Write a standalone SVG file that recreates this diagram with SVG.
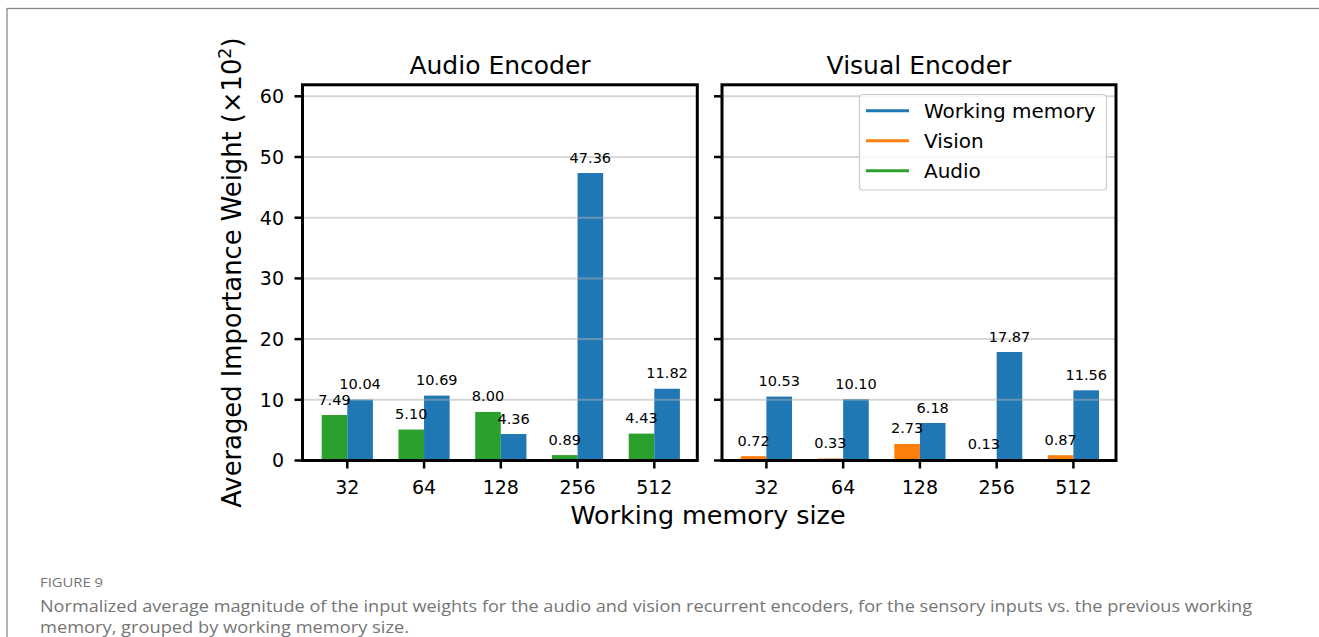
<svg xmlns="http://www.w3.org/2000/svg" width="1319" height="637" viewBox="0 0 1319 637">
<style>
.t{font-family:"DejaVu Sans",sans-serif;fill:#000}
.tick{font-size:19px}
.val{font-size:14.5px;text-anchor:middle}
.title{font-size:25px;text-anchor:middle}
.leg{font-size:20px}
.grid{stroke:#b0b0b0;stroke-opacity:0.5;stroke-width:2}
.spine{fill:none;stroke:#000;stroke-width:3}
.tk{stroke:#000;stroke-width:2.5}
.wm{fill:#1f77b4}
.vi{fill:#ff7f0e}
.au{fill:#2ca02c}
.cap{font-family:"Open Sans","Noto Sans",sans-serif;fill:#757575}
</style>
<rect x="0" y="0" width="1319" height="637" fill="#fff"/>
<rect x="7" y="8.5" width="1340" height="660" fill="none" stroke="#8a8a8a" stroke-width="1.3"/>

<g id="audio-panel">
  <g id="audio-bars">
    <rect class="au" x="321.7" y="415.04" width="25.6" height="45.46"/>
    <rect class="wm" x="347.3" y="399.56" width="25.6" height="60.94"/>
    <rect class="au" x="398.45" y="429.54" width="25.6" height="30.96"/>
    <rect class="wm" x="424.05" y="395.61" width="25.6" height="64.89"/>
    <rect class="au" x="475.2" y="411.94" width="25.6" height="48.56"/>
    <rect class="wm" x="500.8" y="434.03" width="25.6" height="26.47"/>
    <rect class="au" x="551.95" y="455.1" width="25.6" height="5.4"/>
    <rect class="wm" x="577.55" y="173.02" width="25.6" height="287.48"/>
    <rect class="au" x="628.7" y="433.61" width="25.6" height="26.89"/>
    <rect class="wm" x="654.3" y="388.75" width="25.6" height="71.75"/>
  </g>
  <g id="audio-grid">
    <line class="grid" x1="302.5" x2="697.3" y1="399.8" y2="399.8"/>
    <line class="grid" x1="302.5" x2="697.3" y1="339.1" y2="339.1"/>
    <line class="grid" x1="302.5" x2="697.3" y1="278.4" y2="278.4"/>
    <line class="grid" x1="302.5" x2="697.3" y1="217.7" y2="217.7"/>
    <line class="grid" x1="302.5" x2="697.3" y1="157" y2="157"/>
    <line class="grid" x1="302.5" x2="697.3" y1="96.3" y2="96.3"/>
  </g>
  <g id="audio-values" class="t">
    <text class="val" x="334.5" y="404.5">7.49</text>
    <text class="val" x="360.1" y="389.1">10.04</text>
    <text class="val" x="411.25" y="419">5.10</text>
    <text class="val" x="436.85" y="385.1">10.69</text>
    <text class="val" x="488" y="401.4">8.00</text>
    <text class="val" x="513.6" y="423.5">4.36</text>
    <text class="val" x="564.75" y="444.6">0.89</text>
    <text class="val" x="590.35" y="162.5">47.36</text>
    <text class="val" x="641.5" y="423.1">4.43</text>
    <text class="val" x="667.1" y="378.25">11.82</text>
  </g>
  <rect class="spine" x="302.5" y="84.8" width="394.8" height="375.7"/>
  <g id="audio-ticks">
    <line class="tk" x1="294.5" x2="302.5" y1="460.5" y2="460.5"/>
    <line class="tk" x1="294.5" x2="302.5" y1="399.8" y2="399.8"/>
    <line class="tk" x1="294.5" x2="302.5" y1="339.1" y2="339.1"/>
    <line class="tk" x1="294.5" x2="302.5" y1="278.4" y2="278.4"/>
    <line class="tk" x1="294.5" x2="302.5" y1="217.7" y2="217.7"/>
    <line class="tk" x1="294.5" x2="302.5" y1="157" y2="157"/>
    <line class="tk" x1="294.5" x2="302.5" y1="96.3" y2="96.3"/>
    <line class="tk" x1="347.3" x2="347.3" y1="460.5" y2="468.5"/>
    <line class="tk" x1="424.05" x2="424.05" y1="460.5" y2="468.5"/>
    <line class="tk" x1="500.8" x2="500.8" y1="460.5" y2="468.5"/>
    <line class="tk" x1="577.55" x2="577.55" y1="460.5" y2="468.5"/>
    <line class="tk" x1="654.3" x2="654.3" y1="460.5" y2="468.5"/>
  </g>
  <g id="audio-ticklabels" class="t tick">
    <text x="284" y="467.4" text-anchor="end">0</text>
    <text x="284" y="406.7" text-anchor="end">10</text>
    <text x="284" y="346" text-anchor="end">20</text>
    <text x="284" y="285.3" text-anchor="end">30</text>
    <text x="284" y="224.6" text-anchor="end">40</text>
    <text x="284" y="163.9" text-anchor="end">50</text>
    <text x="284" y="103.2" text-anchor="end">60</text>
    <text x="347.3" y="493.5" text-anchor="middle">32</text>
    <text x="424.05" y="493.5" text-anchor="middle">64</text>
    <text x="500.8" y="493.5" text-anchor="middle">128</text>
    <text x="577.55" y="493.5" text-anchor="middle">256</text>
    <text x="654.3" y="493.5" text-anchor="middle">512</text>
  </g>
  <text class="t title" x="500" y="73.5">Audio Encoder</text>
</g>

<g id="visual-panel">
  <g id="visual-bars">
    <rect class="vi" x="740.8" y="456.13" width="25.6" height="4.37"/>
    <rect class="wm" x="766.4" y="396.58" width="25.6" height="63.92"/>
    <rect class="vi" x="817.55" y="458.5" width="25.6" height="2"/>
    <rect class="wm" x="843.15" y="399.19" width="25.6" height="61.31"/>
    <rect class="vi" x="894.3" y="443.93" width="25.6" height="16.57"/>
    <rect class="wm" x="919.9" y="422.99" width="25.6" height="37.51"/>
    <rect class="vi" x="971.05" y="459.71" width="25.6" height="0.79"/>
    <rect class="wm" x="996.65" y="352.03" width="25.6" height="108.47"/>
    <rect class="vi" x="1047.8" y="455.22" width="25.6" height="5.28"/>
    <rect class="wm" x="1073.4" y="390.33" width="25.6" height="70.17"/>
  </g>
  <g id="visual-grid">
    <line class="grid" x1="722" x2="1116" y1="399.8" y2="399.8"/>
    <line class="grid" x1="722" x2="1116" y1="339.1" y2="339.1"/>
    <line class="grid" x1="722" x2="1116" y1="278.4" y2="278.4"/>
    <line class="grid" x1="722" x2="1116" y1="217.7" y2="217.7"/>
    <line class="grid" x1="722" x2="1116" y1="157" y2="157"/>
    <line class="grid" x1="722" x2="1116" y1="96.3" y2="96.3"/>
  </g>
  <g id="visual-values" class="t">
    <text class="val" x="753.6" y="445.6">0.72</text>
    <text class="val" x="779.2" y="386.1">10.53</text>
    <text class="val" x="830.35" y="448">0.33</text>
    <text class="val" x="855.95" y="388.7">10.10</text>
    <text class="val" x="907.1" y="433.4">2.73</text>
    <text class="val" x="932.7" y="412.5">6.18</text>
    <text class="val" x="983.85" y="449.2">0.13</text>
    <text class="val" x="1009.45" y="341.5">17.87</text>
    <text class="val" x="1060.6" y="444.7">0.87</text>
    <text class="val" x="1086.2" y="379.8">11.56</text>
  </g>
  <rect class="spine" x="722" y="84.8" width="394" height="375.7"/>
  <g id="visual-ticks">
    <line class="tk" x1="714" x2="722" y1="460.5" y2="460.5"/>
    <line class="tk" x1="714" x2="722" y1="399.8" y2="399.8"/>
    <line class="tk" x1="714" x2="722" y1="339.1" y2="339.1"/>
    <line class="tk" x1="714" x2="722" y1="278.4" y2="278.4"/>
    <line class="tk" x1="714" x2="722" y1="217.7" y2="217.7"/>
    <line class="tk" x1="714" x2="722" y1="157" y2="157"/>
    <line class="tk" x1="714" x2="722" y1="96.3" y2="96.3"/>
    <line class="tk" x1="766.4" x2="766.4" y1="460.5" y2="468.5"/>
    <line class="tk" x1="843.15" x2="843.15" y1="460.5" y2="468.5"/>
    <line class="tk" x1="919.9" x2="919.9" y1="460.5" y2="468.5"/>
    <line class="tk" x1="996.65" x2="996.65" y1="460.5" y2="468.5"/>
    <line class="tk" x1="1073.4" x2="1073.4" y1="460.5" y2="468.5"/>
  </g>
  <g id="visual-ticklabels" class="t tick">
    <text x="766.4" y="493.5" text-anchor="middle">32</text>
    <text x="843.15" y="493.5" text-anchor="middle">64</text>
    <text x="919.9" y="493.5" text-anchor="middle">128</text>
    <text x="996.65" y="493.5" text-anchor="middle">256</text>
    <text x="1073.4" y="493.5" text-anchor="middle">512</text>
  </g>
  <text class="t title" x="919" y="73.5">Visual Encoder</text>
  <g id="legend">
    <rect x="859.5" y="94.5" width="247" height="95.5" rx="3" fill="#fff" fill-opacity="0.8" stroke="#cccccc" stroke-width="1.2"/>
    <line x1="866" x2="909" y1="110.7" y2="110.7" stroke="#1f77b4" stroke-width="3"/>
    <line x1="866" x2="909" y1="140.7" y2="140.7" stroke="#ff7f0e" stroke-width="3"/>
    <line x1="866" x2="909" y1="170.7" y2="170.7" stroke="#2ca02c" stroke-width="3"/>
    <text class="t leg" x="924" y="117.8">Working memory</text>
    <text class="t leg" x="924" y="147.8">Vision</text>
    <text class="t leg" x="924" y="177.8">Audio</text>
  </g>
</g>

<g id="axis-labels" class="t">
  <text x="708" y="523.5" font-size="25.4" text-anchor="middle">Working memory size</text>
  <text transform="translate(240.5,272.6) rotate(-90)" font-size="25.8" text-anchor="middle">Averaged Importance Weight (×10<tspan font-size="17.5" dy="-10">2</tspan><tspan dy="10">)</tspan></text>
</g>

<g id="caption">
  <text class="cap" x="40" y="587" font-size="13" textLength="63" lengthAdjust="spacingAndGlyphs">FIGURE 9</text>
  <text class="cap" x="40" y="612" font-size="16" textLength="1212" lengthAdjust="spacingAndGlyphs">Normalized average magnitude of the input weights for the audio and vision recurrent encoders, for the sensory inputs vs. the previous working</text>
  <text class="cap" x="40" y="633" font-size="16" textLength="369" lengthAdjust="spacingAndGlyphs">memory, grouped by working memory size.</text>
</g>
</svg>
